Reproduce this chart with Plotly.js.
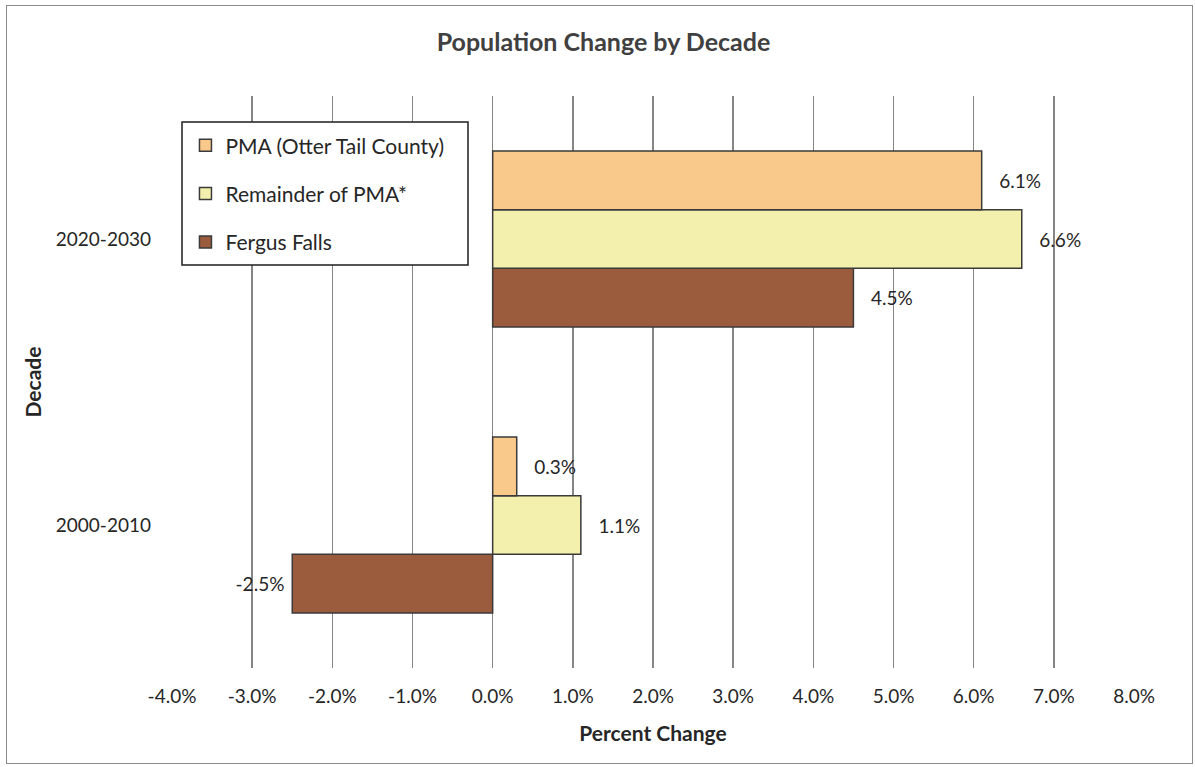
<!DOCTYPE html>
<html>
<head>
<meta charset="utf-8">
<script src="https://cdn.plot.ly/plotly-3.0.1.min.js"></script>
<style>
  html, body { margin: 0; padding: 0; background: #fff; }
  #wrap { position: relative; width: 1195px; height: 767px; }
  #chart { width: 1195px; height: 767px; }
  #frame { position: absolute; left: 6px; top: 5px; width: 1185px; height: 757px;
           border: 1.5px solid #8a8a8a; pointer-events: none; }
</style>
</head>
<body>
<div id="wrap">
  <div id="chart"></div>
  <div id="frame"></div>
</div>
<script>
// Decades shown on the vertical axis (bottom to top)
const decades = ['2000-2010', '2020-2030'];

// Percent change per decade for each area
const pmaOtterTail = [0.3, 6.1];
const remainderPma = [1.1, 6.6];
const fergusFalls = [-2.5, 4.5];

// Horizontal axis ticks
const xTickVals = [-4, -3, -2, -1, 0, 1, 2, 3, 4, 5, 6, 7, 8];
const xTickText = xTickVals.map(v => v.toFixed(1) + '%');

const NB = '\u00A0';
function labels(vals) {
  return vals.map(v => v >= 0 ? NB + NB + NB + v.toFixed(1) + '%' : v.toFixed(1) + '%' + NB);
}

const FONT = 'Lato, "Open Sans", sans-serif';
const lineColor = '#3a3a3a';

function barTrace(name, vals, color, rank) {
  return {
    type: 'bar',
    orientation: 'h',
    name: name,
    y: decades,
    x: vals,
    text: labels(vals),
    textposition: 'outside',
    textangle: 0,
    cliponaxis: false,
    textfont: { family: FONT, size: 19, color: '#262626' },
    marker: { color: color, line: { color: lineColor, width: 1.5 } },
    legendgroup: 'g' + rank,
    legendrank: rank,
    hoverinfo: 'x+name'
  };
}

// Drawn bottom-to-top within each decade: Fergus Falls, Remainder, PMA
const traces = [
  barTrace('Fergus Falls', fergusFalls, '#9B5B3D', 3),
  barTrace('Remainder of PMA*', remainderPma, '#F3F0AD', 2),
  barTrace('PMA (Otter Tail County)', pmaOtterTail, '#F9C98B', 1)
];

const layout = {
  width: 1195,
  height: 767,
  margin: { l: 172, r: 61, t: 96, b: 99 },
  paper_bgcolor: '#ffffff',
  plot_bgcolor: '#ffffff',
  font: { family: FONT, size: 19, color: '#262626' },
  title: {
    text: '<b>Population Change by Decade</b>',
    font: { family: FONT, size: 25, color: '#404040' },
    x: 0.505, xanchor: 'center',
    y: 1 - 42 / 767, yanchor: 'middle', yref: 'container'
  },
  barmode: 'group',
  bargap: 0.385,
  bargroupgap: 0,
  showlegend: true,
  legend: {
    x: 0.014, xanchor: 'left',
    y: 0.949, yanchor: 'top',
    traceorder: 'grouped',
    tracegroupgap: 18,
    bgcolor: 'rgba(0,0,0,0)',
    borderwidth: 0,
    font: { family: FONT, size: 21, color: '#262626' },
    itemclick: false, itemdoubleclick: false
  },
  xaxis: {
    range: [-4, 8],
    tickvals: xTickVals,
    ticktext: xTickText,
    showgrid: true,
    gridcolor: '#858585',
    gridwidth: 1.6,
    zeroline: false,
    showline: false,
    ticks: '',
    ticklabelstandoff: 15,
    tickfont: { family: FONT, size: 19, color: '#262626' },
    title: {
      text: '<b>Percent Change</b>',
      font: { family: FONT, size: 21, color: '#262626' },
      standoff: 20
    },
    fixedrange: true
  },
  yaxis: {
    type: 'category',
    categoryorder: 'array',
    categoryarray: decades,
    range: [-0.5, 1.5],
    showgrid: false,
    zeroline: false,
    showline: false,
    ticks: '',
    ticklabelstandoff: 20,
    tickfont: { family: FONT, size: 19, color: '#262626' },
    title: {
      text: '<b>Decade</b>',
      font: { family: FONT, size: 21, color: '#262626' },
      standoff: 8
    },
    fixedrange: true
  },
  shapes: [
    {
      type: 'rect', xref: 'paper', yref: 'paper', layer: 'above',
      x0: (182 - 172) / 962, x1: (468 - 172) / 962,
      y0: (668 - 265) / 572, y1: (668 - 122) / 572,
      fillcolor: '#ffffff',
      line: { color: '#1e1e1e', width: 1.5 }
    }
  ]
};

Plotly.newPlot('chart', traces, layout, { displayModeBar: false, staticPlot: true });
</script>
</body>
</html>
